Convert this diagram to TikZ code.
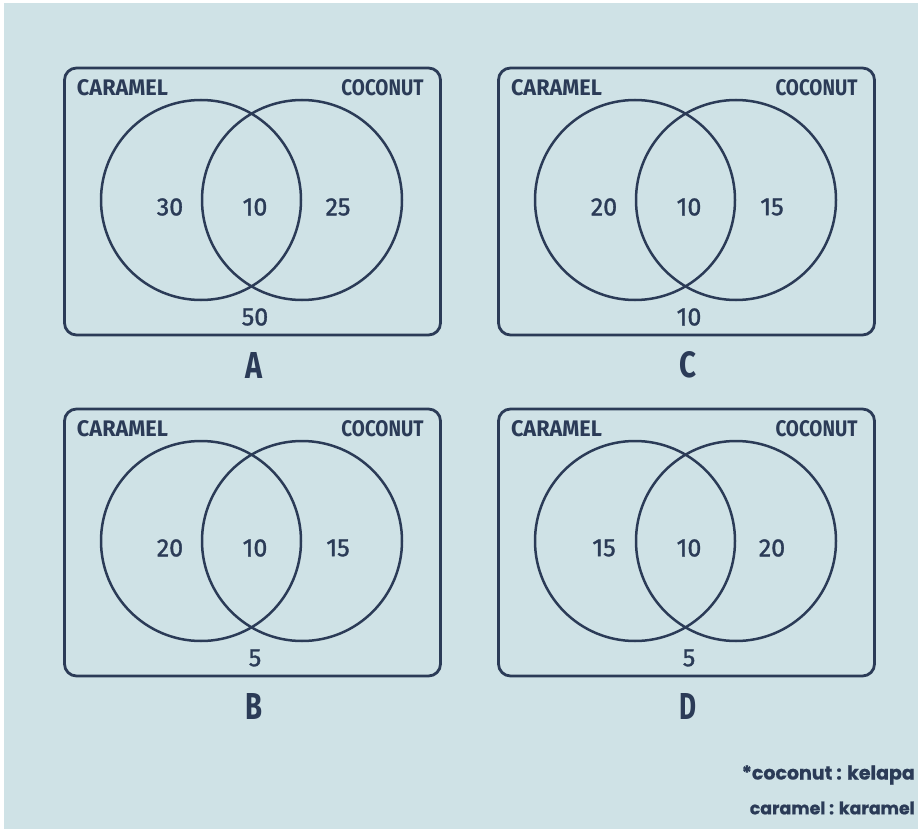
\documentclass[tikz,border=0pt]{standalone}
\usepackage{fontspec}
\setmainfont{Fira Sans}
\newfontfamily\numfont{Fira Sans}[FakeBold=1.3]
\newfontfamily\notefont{Poppins}[FakeBold=0.8]
\definecolor{bg}{HTML}{CFE2E6}
\definecolor{ink}{HTML}{2B3B57}
\tikzset{
  panel/.style={draw=ink, line width=2.8pt, rounded corners=12pt, minimum width=376pt, minimum height=267pt, inner sep=0pt},
  setcirc/.style={circle, draw=ink, line width=2.5pt, minimum size=200pt, inner sep=0pt},
  setlabel/.style={text=ink, inner sep=0pt, font=\bfseries},
  num/.style={text=ink, inner sep=0pt, font=\numfont\fontsize{25}{25}\selectfont},
  panelletter/.style={text=ink, inner sep=0pt, font=\bfseries},
  note/.style={text=ink, inner sep=0pt, anchor=east}
}
\newcommand\vennpanel[8]{%
  \begin{scope}[shift={(#2,#3)}]
    \node[panel] (#1box) at (252.5,201.5) {};
    \node[setcirc] (#1car) at (201,200) {};
    \node[setcirc] (#1coc) at (302,200) {};
    \node[setlabel] (#1lcar) at (122.5,88) {\resizebox{91pt}{16pt}{CARAMEL}};
    \node[setlabel] (#1lcoc) at (382.5,88) {\resizebox{82pt}{16pt}{COCONUT}};
    \node[num] (#1nl) at (170,207) {#4};
    \node[num] (#1nm) at (255,207) {#5};
    \node[num] (#1nr) at (338,207) {#6};
    \node[num] (#1no) at (255,317) {#7};
    \node[panelletter] (#1let) at (254,365) {\resizebox{17pt}{26pt}{#8}};
  \end{scope}}
\begin{document}
\begin{tikzpicture}[x=1pt,y=-1pt]
  \fill[white] (0,0) rectangle (918,829);
  \fill[bg] (4,3) rectangle (918,829);
  \useasboundingbox (0,0) rectangle (918,829);
  \vennpanel{a}{0}{0}{30}{10}{25}{50}{A}
  \vennpanel{c}{434}{0}{20}{10}{15}{10}{C}
  \vennpanel{b}{0}{341}{20}{10}{15}{5}{B}
  \vennpanel{d}{434}{341}{15}{10}{20}{5}{D}
  \node[note] (note1) at (915,775) {\resizebox{173pt}{!}{\notefont\bfseries *coconut : kelapa}};
  \node[note] (note2) at (915,808) {\resizebox{165pt}{!}{\notefont\bfseries caramel : karamel}};
\end{tikzpicture}
\end{document}
